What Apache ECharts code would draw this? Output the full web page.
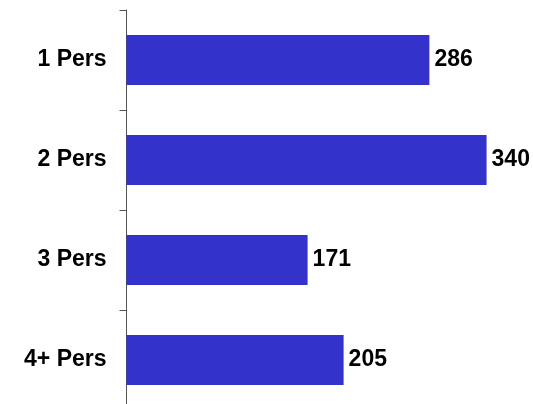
<!DOCTYPE html>
<html><head><meta charset="utf-8">
<script src="https://cdn.jsdelivr.net/npm/echarts@6/dist/echarts.min.js"></script>
<style>html,body{margin:0;padding:0;background:#fff;overflow:hidden}#c{width:533px;height:410px}</style>
</head><body><div id="c"></div>
<script>
const categories = ['1 Pers', '2 Pers', '3 Pers', '4+ Pers'];
const values = [286, 340, 171, 205];

const chart = echarts.init(document.getElementById('c'), null, {renderer: 'canvas'});
chart.setOption({
  animation: false,
  grid: {left: 126.5, right: 3, top: 10, bottom: 0, containLabel: false},
  xAxis: {type: 'value', min: 0, max: 381, show: false},
  yAxis: {
    type: 'category', data: categories, inverse: true,
    axisLine: {show: true, lineStyle: {color: '#555', width: 1}},
    axisTick: {show: true, length: 7, lineStyle: {color: '#555'}},
    axisLabel: {margin: 20, color: '#000', fontFamily: 'Liberation Sans, Arial, sans-serif', fontWeight: 'bold', fontSize: 23},
    splitLine: {show: false}
  },
  series: [{
    type: 'bar', data: values, barCategoryGap: '50%',
    itemStyle: {color: '#3333CC'},
    label: {show: true, position: 'right', distance: 5, color: '#000', fontFamily: 'Liberation Sans, Arial, sans-serif', fontWeight: 'bold', fontSize: 23}
  }]
});
</script></body></html>
